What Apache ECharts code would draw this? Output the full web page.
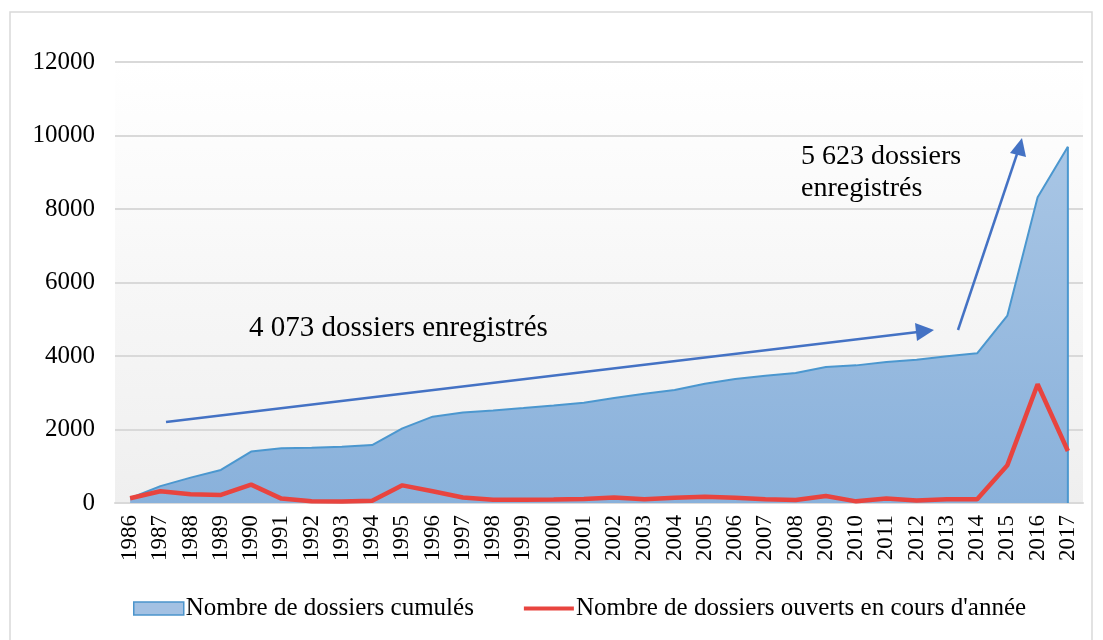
<!DOCTYPE html>
<html>
<head>
<meta charset="utf-8">
<script src="https://cdn.jsdelivr.net/npm/echarts@6/dist/echarts.min.js"></script>
<style>
  html, body { margin: 0; padding: 0; background: #fff; }
  #chart { width: 1103px; height: 640px; }
</style>
</head>
<body>
<div id="chart"></div>
<script>
var years = [];
for (var y = 1986; y <= 2017; y++) years.push(String(y));

// cumulative number of files
var cumules = [130, 460, 690, 900, 1400, 1490, 1505, 1530, 1575, 2030, 2350, 2465,
  2520, 2585, 2655, 2730, 2855, 2970, 3075, 3245, 3375, 3465, 3535, 3700,
  3745, 3835, 3900, 3990, 4073, 5100, 8320, 9696];
// files opened during the year
var ouverts = [130, 320, 240, 220, 500, 120, 50, 40, 60, 480, 320, 150,
  90, 90, 95, 110, 150, 100, 140, 170, 140, 100, 80, 190,
  45, 125, 70, 100, 100, 1030, 3230, 1415];

var serif = '"Liberation Serif", "DejaVu Serif", serif';

var chart = echarts.init(document.getElementById('chart'));
chart.setOption({
  animation: false,
  backgroundColor: '#fff',
  grid: {
    left: 115, right: 20, top: 62, bottom: 137,
    show: true,
    borderWidth: 0,
    backgroundColor: new echarts.graphic.LinearGradient(0, 0, 0, 1, [
      {offset: 0, color: '#ffffff'},
      {offset: 1, color: '#efefef'}
    ])
  },
  legend: {
    bottom: 14,
    left: 128,
    itemGap: 50,
    itemWidth: 50,
    itemHeight: 13,
    textStyle: {fontFamily: serif, fontSize: 25, color: '#000', padding: [0, 0, 0, -3]},
    data: [
      {name: 'Nombre de dossiers cumulés', icon: 'rect',
        itemStyle: {color: '#a3c1e3', borderColor: '#4b94cc', borderWidth: 1.5}},
      {name: "Nombre de dossiers ouverts en cours d'année",
        icon: 'path://M0,0 L0.01,0 L0,0.01 Z M0,4.5 L50,4.5 L50,8.5 L0,8.5 Z M0,13 L0.01,13 L0,12.99 Z',
        itemStyle: {color: '#e8443f', borderWidth: 0}}
    ]
  },
  xAxis: {
    type: 'category',
    data: years,
    boundaryGap: true,
    axisLine: {lineStyle: {color: '#d9d9d9', width: 2}},
    axisTick: {show: false},
    axisLabel: {rotate: 90, fontFamily: serif, fontSize: 23, color: '#000', margin: 12, interval: 0}
  },
  yAxis: {
    type: 'value',
    min: 0, max: 12000, interval: 2000,
    axisLine: {show: false},
    axisTick: {show: false},
    splitLine: {lineStyle: {color: '#d9d9d9', width: 2}},
    axisLabel: {fontFamily: serif, fontSize: 25, color: '#000', margin: 20,
      formatter: function (v) { return String(v); }}
  },
  series: [
    {
      name: 'Nombre de dossiers cumulés',
      type: 'line',
      data: cumules,
      symbol: 'none',
      lineStyle: {color: '#4b97cf', width: 2},
      itemStyle: {color: '#8db4dc'},
      areaStyle: {
        opacity: 1,
        color: new echarts.graphic.LinearGradient(0, 0, 0, 1, [
          {offset: 0, color: '#a9c6e5'},
          {offset: 1, color: '#89b1db'}
        ])
      },
      z: 2
    },
    {
      // right edge of the area
      name: 'edge',
      type: 'line',
      data: [[years[years.length - 1], 0], [years[years.length - 1], cumules[cumules.length - 1]]],
      symbol: 'none',
      lineStyle: {color: '#4b97cf', width: 2},
      z: 3
    },
    {
      name: "Nombre de dossiers ouverts en cours d'année",
      type: 'line',
      data: ouverts,
      symbol: 'none',
      lineStyle: {color: '#e8443f', width: 4.5},
      itemStyle: {color: '#e8443f'},
      z: 4
    }
  ],
  graphic: [
    {type: 'rect', shape: {x: 10, y: 12, width: 1082, height: 640},
      style: {fill: 'none', stroke: '#d9d9d9', lineWidth: 1.5}, z: -1},
    {type: 'line', shape: {x1: 166, y1: 422, x2: 918, y2: 332},
      style: {stroke: '#4472c4', lineWidth: 2.5}, z: 10},
    {type: 'polygon', shape: {points: [[934, 330], [915, 323], [917, 341]]},
      style: {fill: '#4472c4'}, z: 10},
    {type: 'line', shape: {x1: 958, y1: 330, x2: 1017, y2: 154},
      style: {stroke: '#4472c4', lineWidth: 2.5}, z: 10},
    {type: 'polygon', shape: {points: [[1022, 138], [1010, 153], [1026, 157]]},
      style: {fill: '#4472c4'}, z: 10},
    {type: 'text', left: 249, top: 314,
      style: {text: '4 073 dossiers enregistrés', font: '29px ' + serif, fill: '#000'}, z: 10},
    {type: 'text', left: 801, top: 141,
      style: {text: '5 623 dossiers\nenregistrés', font: '28px ' + serif, fill: '#000', lineHeight: 32}, z: 10}
  ]
});
</script>
</body>
</html>
